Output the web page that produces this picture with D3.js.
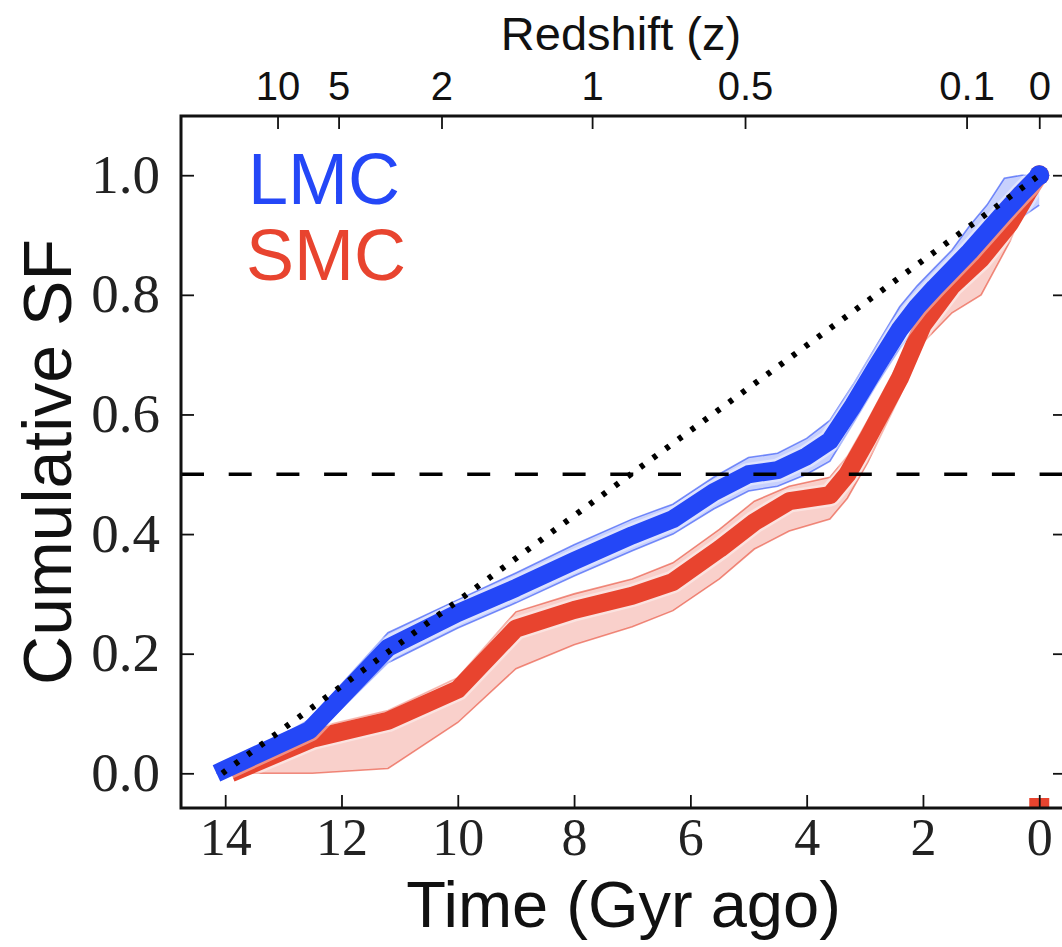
<!DOCTYPE html>
<html>
<head>
<meta charset="utf-8">
<script src="https://cdn.jsdelivr.net/npm/d3@7"></script>
<style>
  html, body { margin: 0; padding: 0; background: #fff; }
  svg { display: block; }
</style>
</head>
<body>
<svg id="chart" width="1062" height="947"></svg>
<script>
// ---------------- DATA ----------------
const lmcTime  = [14.15, 12.55, 11.2, 10.0, 9.0, 8.0, 7.0, 6.3, 5.6, 5.0, 4.5, 4.0, 3.6, 3.2, 2.8, 2.4, 2.1, 1.8, 1.5, 1.2, 0.9, 0.6, 0.3, 0.0];
const lmcMid   = [0.0, 0.072, 0.21, 0.268, 0.31, 0.355, 0.398, 0.425, 0.47, 0.5, 0.507, 0.53, 0.556, 0.615, 0.68, 0.742, 0.78, 0.812, 0.842, 0.872, 0.905, 0.938, 0.97, 1.0];
const lmcLow   = [0.0, 0.055, 0.185, 0.243, 0.285, 0.33, 0.372, 0.4, 0.442, 0.472, 0.48, 0.5, 0.522, 0.585, 0.65, 0.71, 0.75, 0.785, 0.815, 0.845, 0.878, 0.905, 0.93, 0.95];
const lmcHigh  = [0.0, 0.09, 0.235, 0.29, 0.335, 0.382, 0.425, 0.45, 0.495, 0.528, 0.535, 0.56, 0.59, 0.65, 0.715, 0.78, 0.815, 0.845, 0.875, 0.915, 0.95, 0.995, 1.0, 1.0];

const smcTime  = [13.9, 12.5, 11.2, 10.0, 9.0, 8.0, 7.0, 6.3, 5.5, 4.9, 4.3, 3.6, 3.3, 2.95, 2.4, 2.0, 1.5, 1.0, 0.5, 0.2, 0.0];
const smcMid   = [0.0, 0.058, 0.088, 0.14, 0.242, 0.273, 0.297, 0.32, 0.375, 0.42, 0.455, 0.465, 0.5, 0.56, 0.66, 0.75, 0.815, 0.86, 0.92, 0.97, 1.0];
const smcLow   = [0.0, 0.0, 0.008, 0.085, 0.175, 0.215, 0.245, 0.272, 0.325, 0.375, 0.405, 0.425, 0.46, 0.52, 0.63, 0.72, 0.77, 0.8, 0.89, 0.96, 0.98];
const smcHigh  = [0.0, 0.075, 0.105, 0.16, 0.27, 0.3, 0.325, 0.352, 0.408, 0.455, 0.48, 0.495, 0.53, 0.59, 0.69, 0.78, 0.84, 0.9, 0.97, 1.0, 1.0];

const constTime = [14.05, 0.0];          // constant-SFR reference (dotted)
const constSF   = [0.0, 1.0];
const halfLevel = 0.5;                    // dashed horizontal line
const markerTime = [0.0];                 // red square marker at bottom
const markerSF   = [-0.058];

const xTicks = [14, 12, 10, 8, 6, 4, 2, 0];
const yTicks = [0.0, 0.2, 0.4, 0.6, 0.8, 1.0];
const zLabels = ["10", "5", "2", "1", "0.5", "0.1", "0"];
const zTickTime = [13.1, 12.05, 10.28, 7.69, 5.06, 1.25, 0.0];

const seriesNames = ["LMC", "SMC"];

// ---------------- LAYOUT ----------------
const svg = d3.select("#chart");
const L = 181, R = 1066, T = 116, B = 808;

const x = d3.scaleLinear().domain([14.76, -0.46]).range([L, R]);
const y = d3.scaleLinear().domain([-0.058, 1.099]).range([B, T]);

const blue = "#2447f7", red = "#e8442f";

svg.append("defs").append("clipPath").attr("id", "plotclip")
  .append("rect").attr("x", L).attr("y", T).attr("width", R - L).attr("height", B - T);

const plot = svg.append("g").attr("clip-path", "url(#plotclip)");

function rows(t, a, b, c) { return t.map((d, i) => ({ t: d, m: a[i], lo: b[i], hi: c[i] })); }
const lmc = rows(lmcTime, lmcMid, lmcLow, lmcHigh);
const smc = rows(smcTime, smcMid, smcLow, smcHigh);

const area = d3.area().x(d => x(d.t)).y0(d => y(d.lo)).y1(d => y(d.hi));
const lineLo = d3.line().x(d => x(d.t)).y(d => y(d.lo));
const lineHi = d3.line().x(d => x(d.t)).y(d => y(d.hi));
const lineMid = d3.line().x(d => x(d.t)).y(d => y(d.m));

function band(data, col) {
  plot.append("path").datum(data).attr("d", area)
    .attr("fill", col).attr("fill-opacity", 0.25).attr("stroke", "none");
  [lineLo, lineHi].forEach(fn => plot.append("path").datum(data).attr("d", fn)
    .attr("fill", "none").attr("stroke", col).attr("stroke-opacity", 0.6).attr("stroke-width", 1.6));
}
function midline(data, col) {
  plot.append("path").datum(data).attr("d", lineMid)
    .attr("fill", "none").attr("stroke", "#ffffff").attr("stroke-opacity", 0.4)
    .attr("stroke-width", 23).attr("stroke-linejoin", "round");
  plot.append("path").datum(data).attr("d", lineMid)
    .attr("fill", "none").attr("stroke", col).attr("stroke-width", 18)
    .attr("stroke-linejoin", "round").attr("stroke-linecap", "butt");
  const last = data[data.length - 1];
  plot.append("circle").attr("cx", x(last.t)).attr("cy", y(last.m)).attr("r", 10).attr("fill", col);
}

band(smc, red);
band(lmc, blue);
midline(smc, red);
midline(lmc, blue);

// dashed 0.5 line
plot.append("line").attr("x1", L).attr("x2", R).attr("y1", y(halfLevel)).attr("y2", y(halfLevel))
  .attr("stroke", "#000").attr("stroke-width", 3.5).attr("stroke-dasharray", "23,24.7");

// dotted constant SFR
plot.append("path").datum(constTime.map((t, i) => ({ t, v: constSF[i] })))
  .attr("d", d3.line().x(d => x(d.t)).y(d => y(d.v)))
  .attr("fill", "none").attr("stroke", "#000").attr("stroke-width", 6)
  .attr("stroke-dasharray", "4.5,11.2");

// red square marker
plot.selectAll("rect.mk").data(markerTime).join("rect").attr("class", "mk")
  .attr("x", d => x(d) - 10).attr("y", (d, i) => y(markerSF[i]) - 10)
  .attr("width", 20).attr("height", 20).attr("fill", red);

// ---------------- AXES ----------------
const tickLen = 13;
const serif = "'Liberation Serif', 'DejaVu Serif', serif";
const sans = "'Liberation Sans', Arial, sans-serif";

// bottom
const xb = d3.axisBottom(x).tickValues(xTicks).tickSize(-tickLen).tickPadding(10).tickFormat(d3.format("d"));
const gB = svg.append("g").attr("transform", `translate(0,${B})`).call(xb);
// top (redshift)
const xt = d3.axisTop(x).tickValues(zTickTime).tickSize(-tickLen).tickPadding(16)
  .tickFormat((d, i) => zLabels[i]);
const gT = svg.append("g").attr("transform", `translate(0,${T})`).call(xt);
// left
const yl = d3.axisLeft(y).tickValues(yTicks).tickSize(-tickLen).tickPadding(21).tickFormat(d3.format(".1f"));
const gL = svg.append("g").attr("transform", `translate(${L},0)`).call(yl);
// right
const yr = d3.axisRight(y).tickValues(yTicks).tickSize(-tickLen).tickFormat("");
const gR = svg.append("g").attr("transform", `translate(${R},0)`).call(yr);

[gB, gT, gL, gR].forEach(g => {
  g.select(".domain").remove();
  g.selectAll(".tick line").attr("stroke", "#111").attr("stroke-width", 1.8);
});
gB.selectAll(".tick text").attr("font-family", serif).attr("font-size", 52).attr("fill", "#222");
gL.selectAll(".tick text").attr("font-family", serif).attr("font-size", 55).attr("fill", "#222")
  .attr("dy", "0.31em");
gT.selectAll(".tick text").attr("font-family", sans).attr("font-size", 40).attr("fill", "#111");

// frame
svg.append("rect").attr("x", L).attr("y", T).attr("width", R - L).attr("height", B - T)
  .attr("fill", "none").attr("stroke", "#111").attr("stroke-width", 3);

// axis titles
svg.append("text").attr("x", (L + R) / 2).attr("y", 927).attr("text-anchor", "middle")
  .attr("font-family", sans).attr("font-size", 65).attr("fill", "#111").text("Time (Gyr ago)");
svg.append("text").attr("transform", `translate(71,${(T + B) / 2}) rotate(-90)`).attr("text-anchor", "middle")
  .attr("font-family", sans).attr("font-size", 68).attr("fill", "#111").text("Cumulative SF");
svg.append("text").attr("x", 621).attr("y", 50).attr("text-anchor", "middle")
  .attr("font-family", sans).attr("font-size", 47).attr("fill", "#111").text("Redshift (z)");

// legend labels
svg.append("text").attr("x", 248).attr("y", 204).attr("font-family", sans).attr("font-size", 72)
  .attr("fill", blue).text(seriesNames[0]);
svg.append("text").attr("x", 246).attr("y", 280).attr("font-family", sans).attr("font-size", 72)
  .attr("fill", red).text(seriesNames[1]);
</script>
</body>
</html>
